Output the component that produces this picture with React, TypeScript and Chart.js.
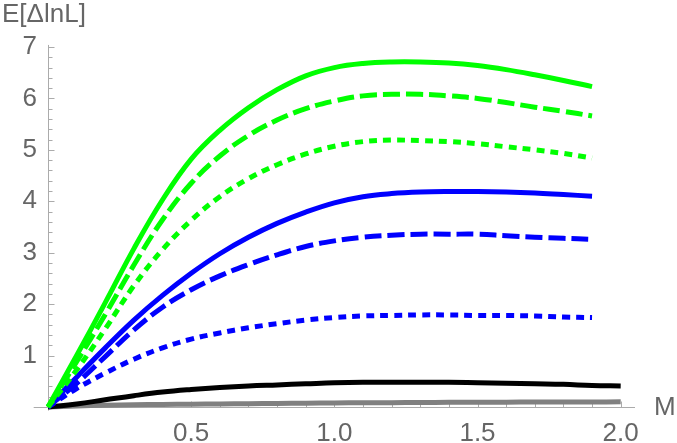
import { useEffect, useRef } from "react";
import { Chart, registerables } from "chart.js";
Chart.register(...registerables);

// x grid for the coloured curves (0 .. 1.9) and for black/gray (0 .. 2.0)
const xColored = [0, 0.1, 0.2, 0.3, 0.4, 0.5, 0.6, 0.7, 0.8, 0.9, 1.0, 1.1, 1.2, 1.3, 1.4, 1.5, 1.6, 1.7, 1.8, 1.9];
const xFull = [0, 0.1, 0.2, 0.3, 0.4, 0.5, 0.6, 0.7, 0.8, 0.9, 1.0, 1.1, 1.2, 1.3, 1.4, 1.5, 1.6, 1.7, 1.8, 1.9, 2.0];

const greenSolid = [0, 1.0, 2.03, 3.08, 4.03, 4.82, 5.38, 5.82, 6.17, 6.44, 6.6, 6.68, 6.71, 6.71, 6.69, 6.64, 6.56, 6.46, 6.35, 6.23];
const greenDashed = [0, 0.88, 1.8, 2.76, 3.64, 4.35, 4.88, 5.28, 5.58, 5.8, 5.95, 6.05, 6.08, 6.08, 6.05, 6.0, 5.92, 5.83, 5.75, 5.66];
const greenDotted = [0, 0.72, 1.52, 2.36, 3.06, 3.63, 4.09, 4.44, 4.71, 4.92, 5.07, 5.16, 5.19, 5.18, 5.16, 5.12, 5.06, 5.0, 4.93, 4.84];
const blueSolid = [0, 0.58, 1.15, 1.69, 2.17, 2.6, 2.98, 3.3, 3.57, 3.79, 3.97, 4.09, 4.15, 4.18, 4.19, 4.19, 4.18, 4.16, 4.13, 4.1];
const blueDashed = [0, 0.46, 0.98, 1.5, 1.94, 2.28, 2.55, 2.77, 2.96, 3.12, 3.23, 3.3, 3.34, 3.36, 3.36, 3.36, 3.33, 3.3, 3.28, 3.26];
const blueDotted = [0, 0.36, 0.66, 0.93, 1.15, 1.32, 1.44, 1.54, 1.62, 1.69, 1.74, 1.77, 1.78, 1.79, 1.79, 1.78, 1.78, 1.77, 1.75, 1.74];
const black = [0, 0.06, 0.14, 0.22, 0.29, 0.34, 0.38, 0.41, 0.43, 0.45, 0.47, 0.48, 0.48, 0.48, 0.48, 0.47, 0.46, 0.45, 0.44, 0.42, 0.41];
const gray = [0, 0.02, 0.035, 0.045, 0.05, 0.055, 0.06, 0.065, 0.07, 0.075, 0.08, 0.082, 0.085, 0.087, 0.09, 0.092, 0.094, 0.096, 0.098, 0.099, 0.1];

const xTickLabels = [0.5, 1.0, 1.5, 2.0];
const yTickLabels = [1, 2, 3, 4, 5, 6, 7];

const yAxisTitle = "E[ΔlnL]";
const xAxisTitle = "M";

const FONT = "'Liberation Sans', Arial, Helvetica, sans-serif";
const TEXT_COLOR = "#666666";
const AXIS_COLOR = "#ababab";

const pts = (xs: number[], ys: number[]) => ys.map((y, i) => ({ x: xs[i], y }));

export default function App() {
  const ref = useRef<HTMLCanvasElement>(null);

  useEffect(() => {
    if (!ref.current) return;

    const axesPlugin = {
      id: "mmaAxes",
      beforeDatasetsDraw(chart: any) {
        const { ctx } = chart;
        const xs = chart.scales.x;
        const ys = chart.scales.y;
        const x0 = Math.round(xs.getPixelForValue(0)) + 0.5;
        const y0 = Math.round(ys.getPixelForValue(0)) + 0.5;
        ctx.save();
        ctx.strokeStyle = AXIS_COLOR;
        ctx.lineWidth = 1;
        ctx.beginPath();
        ctx.moveTo(xs.getPixelForValue(-0.05), y0);
        ctx.lineTo(xs.getPixelForValue(2.05), y0);
        ctx.moveTo(x0, ys.getPixelForValue(-0.07));
        ctx.lineTo(x0, ys.getPixelForValue(7.04));
        // x ticks (0.1 minor, 0.5 major), pointing up
        for (let i = 1; i <= 20; i++) {
          const px = Math.round(xs.getPixelForValue(i / 10)) + 0.5;
          const len = i % 5 === 0 ? 6 : 4;
          ctx.moveTo(px, y0);
          ctx.lineTo(px, y0 - len);
        }
        // y ticks (0.2 minor, 1 major), pointing right
        for (let i = 1; i <= 35; i++) {
          const py = Math.round(ys.getPixelForValue(i / 5)) + 0.5;
          const len = i % 5 === 0 ? 6 : 4;
          ctx.moveTo(x0, py);
          ctx.lineTo(x0 + len, py);
        }
        ctx.stroke();
        ctx.restore();
      },
      afterDraw(chart: any) {
        const { ctx } = chart;
        const xs = chart.scales.x;
        const ys = chart.scales.y;
        ctx.save();
        ctx.fillStyle = TEXT_COLOR;
        ctx.font = `26px ${FONT}`;
        ctx.textAlign = "left";
        ctx.textBaseline = "alphabetic";
        ctx.fillText(yAxisTitle, 2, ys.getPixelForValue(7) - 25);
        ctx.fillText(xAxisTitle, xs.getPixelForValue(2.05) + 19, ys.getPixelForValue(0) + 8);
        ctx.restore();
      },
    };

    const common = { pointRadius: 0, borderWidth: 5, fill: false, clip: false as any, tension: 0.4, borderCapStyle: "butt" as const };

    const chart = new Chart(ref.current, {
      type: "line",
      data: {
        datasets: [
          { ...common, data: pts(xColored, greenSolid), borderColor: "#00ff00" },
          { ...common, data: pts(xColored, greenDashed), borderColor: "#00ff00", borderDash: [17, 6] },
          { ...common, data: pts(xColored, greenDotted), borderColor: "#00ff00", borderDash: [8, 6] },
          { ...common, data: pts(xColored, blueSolid), borderColor: "#0000ff" },
          { ...common, data: pts(xColored, blueDashed), borderColor: "#0000ff", borderDash: [17, 6] },
          { ...common, data: pts(xColored, blueDotted), borderColor: "#0000ff", borderDash: [8, 6] },
          { ...common, data: pts(xFull, black), borderColor: "#000000" },
          { ...common, data: pts(xFull, gray), borderColor: "#808080" },
        ],
      },
      options: {
        responsive: false,
        animation: false,
        events: [],
        layout: { padding: { top: 47, right: 42, left: 0, bottom: 0 } },
        plugins: { legend: { display: false }, tooltip: { enabled: false } },
        scales: {
          x: {
            type: "linear",
            min: 0,
            max: 2.05,
            grid: { display: false, drawTicks: false },
            border: { display: false },
            afterFit: (s: any) => { s.height = 36; },
            afterBuildTicks: (s: any) => { s.ticks = xTickLabels.map((v) => ({ value: v })); },
            ticks: {
              padding: 11,
              color: TEXT_COLOR,
              font: { family: FONT, size: 26 },
              callback: (v: any) => Number(v).toFixed(1),
              maxRotation: 0,
            },
          },
          y: {
            type: "linear",
            min: 0,
            max: 7,
            grid: { display: false, drawTicks: false },
            border: { display: false },
            afterFit: (s: any) => { s.width = 48; },
            afterBuildTicks: (s: any) => { s.ticks = yTickLabels.map((v) => ({ value: v })); },
            ticks: {
              padding: 11,
              color: TEXT_COLOR,
              font: { family: FONT, size: 26 },
              callback: (v: any) => String(v),
            },
          },
        },
      },
      plugins: [axesPlugin],
    });
    return () => chart.destroy();
  }, []);

  return (
    <canvas
      ref={ref}
      width={677}
      height={443}
      style={{ position: "fixed", left: 0, top: 0, width: 677, height: 443, background: "#fff" }}
    />
  );
}
